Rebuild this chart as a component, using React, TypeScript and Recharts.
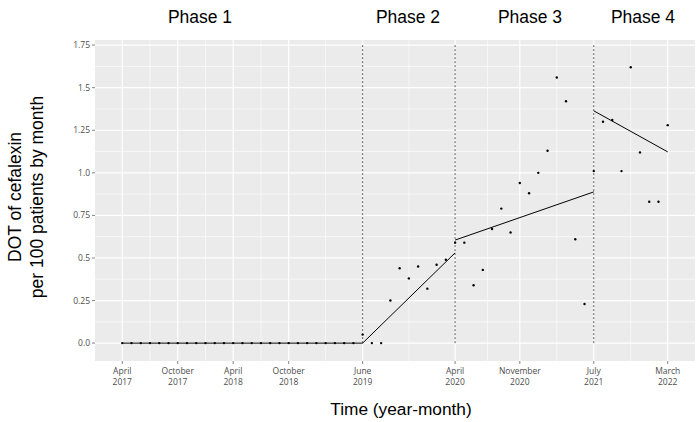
import React from 'react';
import {
  ComposedChart,
  Scatter,
  Line,
  XAxis,
  YAxis,
  CartesianGrid,
  ReferenceLine,
} from 'recharts';

// months since April 2017 (0 = Apr 2017, 59 = Mar 2022)
const tickMonths = [0, 6, 12, 18, 26, 36, 43, 51, 59];
const tickMonthNames = ['April', 'October', 'April', 'October', 'June', 'April', 'November', 'July', 'March'];
const tickYears = ['2017', '2017', '2018', '2018', '2019', '2020', '2020', '2021', '2022'];

const yTicks = [0, 0.25, 0.5, 0.75, 1, 1.25, 1.5, 1.75];
const yTickLabels = ['0.0', '0.25', '0.5', '0.75', '1.0', '1.25', '1.5', '1.75'];

const minorX = [3, 9, 15, 22, 31, 39.5, 47, 55];
const minorY = [0.125, 0.375, 0.625, 0.875, 1.125, 1.375, 1.625];

// monthly DOT of cefalexin per 100 patients
const dotValues = [
  0, 0, 0, 0, 0, 0, 0, 0, 0, 0, 0, 0, 0, 0, 0, 0, 0, 0, 0, 0, 0, 0, 0, 0, 0, 0,
  0.05, 0, 0, 0.25, 0.44, 0.38, 0.45, 0.32, 0.46, 0.49,
  0.59, 0.59, 0.34, 0.43, 0.67, 0.79, 0.65, 0.94, 0.88, 1.0, 1.13, 1.56, 1.42, 0.61, 0.23,
  1.01, 1.3, 1.31, 1.01, 1.62, 1.12, 0.83, 0.83, 1.28,
];

// segmented regression per phase
const phaseStart = [0, 26, 36, 51];
const phaseEnd = [26, 36, 51, 59];
const trendStart = [0, 0, 0.605, 1.364];
const trendEnd = [0, 0.53, 0.888, 1.123];
const phaseBreaks = [26, 36, 51];
const phaseLabels = ['Phase 1', 'Phase 2', 'Phase 3', 'Phase 4'];
const phaseLabelX = [200, 408, 530, 643];

const points = dotValues.map((v, m) => ({ m, v }));
const trends = phaseStart.map((s, i) => [
  { m: s, v: trendStart[i] },
  { m: phaseEnd[i], v: trendEnd[i] },
]);

const tickFont = '"Open Sans", "DejaVu Sans", sans-serif';
const titleFont = '"Liberation Sans", Arial, sans-serif';

const MonthTick = (props: any) => {
  const { x, y, payload } = props;
  const i = tickMonths.indexOf(payload.value);
  return (
    <g>
      <text x={x} y={y + 8} textAnchor="middle" fontSize={8.5} fill="#4d4d4d" fontFamily={tickFont}>
        {tickMonthNames[i]}
      </text>
      <text x={x} y={y + 19} textAnchor="middle" fontSize={8.5} fill="#4d4d4d" fontFamily={tickFont}>
        {tickYears[i]}
      </text>
    </g>
  );
};

const Dot = (props: any) => <circle cx={props.cx} cy={props.cy} r={1.2} fill="#000" />;

export default function App() {
  return (
    <div style={{ position: 'absolute', left: 0, top: 0, width: 700, height: 422, background: '#fff' }}>
      <ComposedChart width={700} height={422} margin={{ top: 40, right: 5, bottom: 0, left: 55 }}>
        <CartesianGrid
          fill="#ebebeb"
          stroke="#ffffff"
          strokeWidth={0.6}
          horizontalValues={minorY}
          verticalValues={minorX}
        />
        <CartesianGrid
          stroke="#ffffff"
          strokeWidth={1.2}
          horizontalValues={yTicks}
          verticalValues={tickMonths}
        />
        <XAxis
          dataKey="m"
          type="number"
          domain={[-2.95, 61.95]}
          ticks={tickMonths}
          allowDataOverflow
          axisLine={false}
          tickLine={{ stroke: '#333333', strokeWidth: 0.6 }}
          tickSize={3}
          height={61}
          tick={<MonthTick />}
        />
        <YAxis
          dataKey="v"
          type="number"
          domain={[-0.105, 1.78]}
          ticks={yTicks}
          allowDataOverflow
          axisLine={false}
          tickLine={{ stroke: '#333333', strokeWidth: 0.6 }}
          tickSize={3}
          width={40}
          tickFormatter={(v: number) => yTickLabels[yTicks.indexOf(v)]}
          tick={{ fontSize: 8.5, fill: '#4d4d4d', fontFamily: tickFont }}
        />
        {phaseBreaks.map((b) => (
          <ReferenceLine
            key={b}
            segment={[{ x: b, y: 0 }, { x: b, y: 1.75 }]}
            stroke="#333333"
            strokeWidth={0.8}
            strokeDasharray="2 2"
          />
        ))}
        {trends.map((d, i) => (
          <Line
            key={i}
            data={d}
            dataKey="v"
            type="linear"
            stroke="#000"
            strokeWidth={1}
            dot={false}
            activeDot={false}
            isAnimationActive={false}
          />
        ))}
        <Scatter data={points} dataKey="v" shape={<Dot />} isAnimationActive={false} />
      </ComposedChart>
      <svg width={700} height={422} style={{ position: 'absolute', left: 0, top: 0, pointerEvents: 'none' }}>
        {phaseLabels.map((p, i) => (
          <text key={p} x={phaseLabelX[i]} y={23} textAnchor="middle" fontSize={17.5} fill="#000" fontFamily={titleFont}>
            {p}
          </text>
        ))}
        <text x={401} y={415} textAnchor="middle" fontSize={17.3} fill="#000" fontFamily={titleFont}>
          Time (year-month)
        </text>
        <g transform="translate(21,197) rotate(-90)">
          <text x={0} y={0} textAnchor="middle" fontSize={17.5} fill="#000" fontFamily={titleFont}>
            DOT of cefalexin
          </text>
          <text x={0} y={22} textAnchor="middle" fontSize={17.5} fill="#000" fontFamily={titleFont}>
            per 100 patients by month
          </text>
        </g>
      </svg>
    </div>
  );
}
